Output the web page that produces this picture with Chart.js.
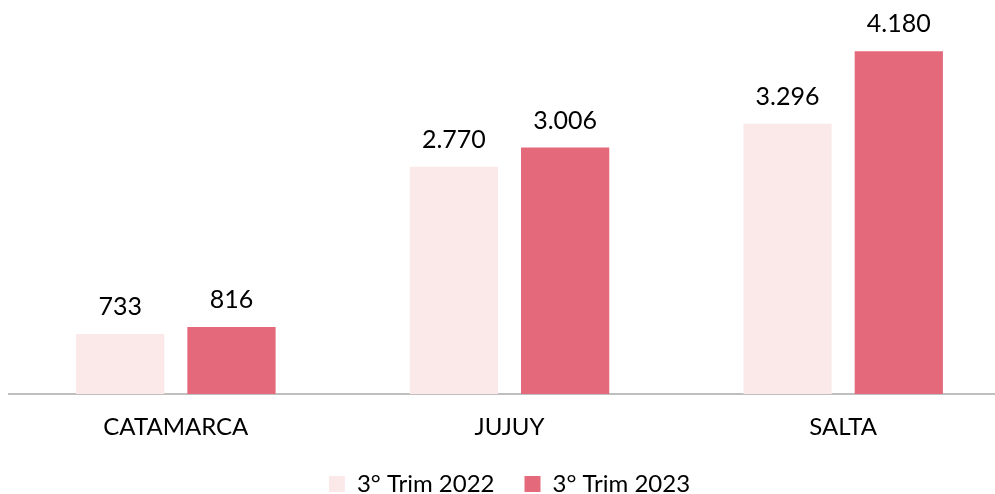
<!DOCTYPE html>
<html>
<head>
<meta charset="utf-8">
<script src="https://cdn.jsdelivr.net/npm/chart.js@4"></script>
<style>
html,body{margin:0;padding:0;background:#fff;overflow:hidden;}
#wrap{position:relative;width:1010px;height:494px;}
</style>
</head>
<body>
<div id="wrap"><canvas id="c"></canvas></div>
<script>
const categories = ["CATAMARCA", "JUJUY", "SALTA"];
const seriesNames = ["3° Trim 2022", "3° Trim 2023"];
const values2022 = [733, 2770, 3296];
const values2023 = [816, 3006, 4180];

const FONT = "Lato, 'Open Sans', sans-serif";

function fmt(v){ return v.toLocaleString('de-DE'); }

const labelPlugin = {
  id: 'valueLabels',
  afterDatasetsDraw(chart){
    const ctx = chart.ctx;
    ctx.save();
    ctx.font = "25px " + FONT;
    ctx.fillStyle = "#000";
    ctx.textAlign = "center";
    ctx.textBaseline = "alphabetic";
    chart.data.datasets.forEach((ds, i) => {
      chart.getDatasetMeta(i).data.forEach((bar, j) => {
        ctx.fillText(fmt(ds.data[j]), bar.x, bar.y - 19);
      });
    });
    ctx.restore();
  }
};

new Chart(document.getElementById('c'), {
  type: 'bar',
  data: {
    labels: categories,
    datasets: [
      { label: seriesNames[0], data: values2022, backgroundColor: '#fbe9ea', categoryPercentage: 0.667, barPercentage: 0.793 },
      { label: seriesNames[1], data: values2023, backgroundColor: '#e3697b', categoryPercentage: 0.667, barPercentage: 0.793 }
    ]
  },
  options: {
    responsive: true,
    maintainAspectRatio: false,
    animation: false,
    layout: { padding: { left: 9, right: 0, top: 0, bottom: -12 } },
    plugins: {
      legend: {
        position: 'bottom',
        labels: {
          font: { family: FONT, size: 24 },
          color: '#000',
          boxWidth: 16,
          boxHeight: 16,
          padding: 30
        }
      },
      tooltip: { enabled: false }
    },
    scales: {
      x: {
        grid: { display: false },
        border: { color: '#bfbfbf', width: 2 },
        ticks: { font: { family: FONT, size: 24 }, color: '#000', padding: 11 },
        afterFit(scale){ scale.height = 48; }
      },
      y: {
        display: false,
        min: 0,
        max: 4805
      }
    }
  },
  plugins: [labelPlugin]
});
</script>
</body>
</html>
